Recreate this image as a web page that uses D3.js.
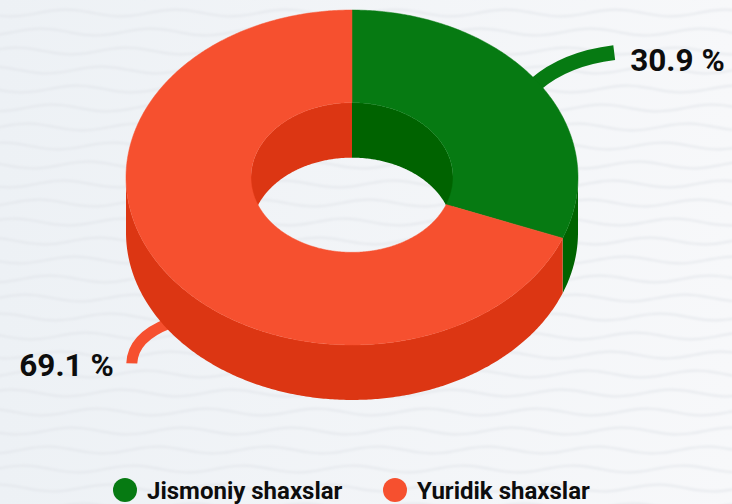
<!DOCTYPE html>
<html>
<head>
<meta charset="utf-8">
<script src="https://cdn.jsdelivr.net/npm/d3@7/dist/d3.min.js"></script>
<style>
  html, body { margin: 0; padding: 0; background: #F2F4F7; }
  svg { display: block; }
  text { font-family: Roboto, "Noto Sans", sans-serif; font-weight: 700; fill: #0d0d0d; }
</style>
</head>
<body>
<svg id="chart" width="732" height="504"></svg>
<script>
// ---- data ----
const categories = ["Jismoniy shaxslar", "Yuridik shaxslar"];
const values = [30.9, 69.1];
const valueLabels = ["30.9 %", "69.1 %"];

// ---- styles ----
const topColors = ["#067A12", "#F6502F"];
const sideColors = ["#006300", "#DC3613"];

const W = 732, H = 504;
const svg = d3.select("#chart");

// background
const defs = svg.append("defs");
const bg = defs.append("linearGradient").attr("id", "bg").attr("x1", "0").attr("x2", "1").attr("y1", "0").attr("y2", "0");
bg.append("stop").attr("offset", "0").attr("stop-color", "#EDF1F5");
bg.append("stop").attr("offset", "1").attr("stop-color", "#F7F8FA");
defs.append("filter").attr("id", "blur").append("feGaussianBlur").attr("stdDeviation", 0.9);
svg.append("rect").attr("width", W).attr("height", H).attr("fill", "url(#bg)");

const waveG = svg.append("g").attr("filter", "url(#blur)");
const waveLine = d3.line().curve(d3.curveBasis);
for (let y0 = -6; y0 < H + 20; y0 += 19) {
  const pts = d3.range(-20, W + 40, 10).map(x => [x, y0 + 3.5 * Math.sin((x + y0 * 1.3) / 110 * 2 * Math.PI)]);
  waveG.append("path").attr("d", waveLine(pts)).attr("fill", "none")
    .attr("stroke", "#DFE2E7").attr("stroke-width", 2.2).attr("opacity", 0.6);
}

// ---- 3D donut geometry ----
const cx = 352, cy = 177.5, R = 226, r = 101, k = 0.741, depth = 55;
const proj = (a, rad, z) => [cx + rad * Math.sin(a), cy - rad * Math.cos(a) * k + z];

const pie = d3.pie().sort(null).value(d => d);
const arcs = pie(values);

function arcPts(a0, a1, rad, z) {
  const n = Math.max(2, Math.ceil(Math.abs(a1 - a0) / 0.01));
  return d3.range(n + 1).map(i => proj(a0 + (a1 - a0) * i / n, rad, z));
}
const line = d3.line();
function closedPath(pts) { return line(pts) + "Z"; }

function wall(a0, a1, rad) {
  const top = arcPts(a0, a1, rad, 0);
  const bot = arcPts(a1, a0, rad, depth);
  return closedPath(top.concat(bot));
}
function intersect(a0, a1, b0, b1) {
  const s = Math.max(a0, b0), e = Math.min(a1, b1);
  return s < e ? [s, e] : null;
}

// connectors (behind pie)
const connG = svg.append("g");
const labelG = svg.append("g");
arcs.forEach((d, i) => {
  const mid = (d.startAngle + d.endAngle) / 2;
  const front = Math.cos(mid) < 0;
  const p = proj(mid, R - 4, front ? depth - 2 : 0);
  let path, tx, ty, anchor;
  if (Math.sin(mid) > 0) {
    const end = [p[0] + 79, p[1] - 32];
    path = `M${p[0]},${p[1]}Q${p[0] + 30},${p[1] - 26} ${end[0]},${end[1]}`;
    tx = end[0] + 16; ty = end[1] + 18; anchor = "start";
    connG.append("path").attr("d", path).attr("fill", "none").attr("stroke", topColors[i]).attr("stroke-width", 15);
  } else {
    const end = [p[0] - 37, p[1] + 40];
    path = `M${p[0]},${p[1]}Q${p[0] - 36},${p[1] + 14} ${end[0]},${end[1]}`;
    tx = end[0] - 18; ty = end[1] + 13; anchor = "end";
    connG.append("path").attr("d", path).attr("fill", "none").attr("stroke", topColors[i]).attr("stroke-width", 11);
  }
  labelG.append("text").attr("x", tx).attr("y", ty).attr("text-anchor", anchor)
    .attr("font-size", 31.5).text(valueLabels[i]);
});

const pieG = svg.append("g");
// inner walls (back half of hole)
arcs.forEach((d, i) => {
  [[-Math.PI / 2, Math.PI / 2], [1.5 * Math.PI, 2.5 * Math.PI]].forEach(([b0, b1]) => {
    const seg = intersect(d.startAngle, d.endAngle, b0, b1);
    if (seg) pieG.append("path").attr("d", wall(seg[0], seg[1], r)).attr("fill", sideColors[i]);
  });
});
// outer walls (front half)
arcs.forEach((d, i) => {
  const seg = intersect(d.startAngle, d.endAngle, Math.PI / 2, 1.5 * Math.PI);
  if (seg) pieG.append("path").attr("d", wall(seg[0], seg[1], R)).attr("fill", sideColors[i]);
});
// top faces
arcs.forEach((d, i) => {
  const pts = arcPts(d.startAngle, d.endAngle, R, 0).concat(arcPts(d.endAngle, d.startAngle, r, 0));
  pieG.append("path").attr("d", closedPath(pts)).attr("fill", topColors[i])
    .attr("stroke", topColors[i]).attr("stroke-width", 0.5);
});
labelG.raise();

// legend
const legendX = [125, 395];
const legend = svg.append("g");
categories.forEach((c, i) => {
  const g = legend.append("g");
  g.append("circle").attr("cx", legendX[i]).attr("cy", 490).attr("r", 12).attr("fill", topColors[i]);
  g.append("text").attr("x", legendX[i] + 22).attr("y", 498.5).attr("font-size", 24).text(c);
});
</script>
</body>
</html>
